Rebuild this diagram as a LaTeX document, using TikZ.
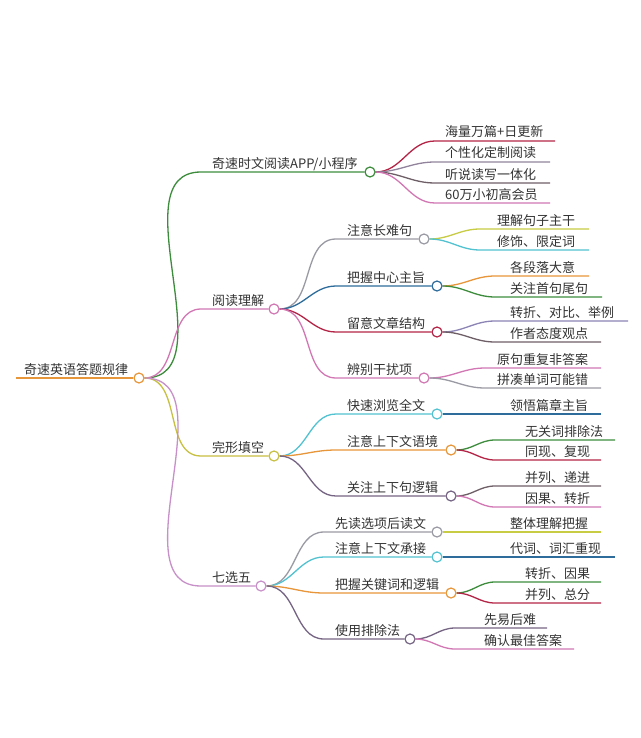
\documentclass[tikz,border=0pt]{standalone}
\usepackage{fontspec}
\setmainfont{Noto Sans CJK SC}
\usepackage{xcolor}
\usepackage{tikz}
\usetikzlibrary{positioning,calc,backgrounds}

\definecolor{cOrange}{HTML}{E8963A}
\definecolor{cGreen}{HTML}{3C8C3C}
\definecolor{cPink}{HTML}{D277B4}
\definecolor{cOlive}{HTML}{C8C042}
\definecolor{cLilac}{HTML}{C890C8}
\definecolor{cGrey}{HTML}{9A9AA4}
\definecolor{cBlue}{HTML}{2E6C9C}
\definecolor{cRed}{HTML}{B42446}
\definecolor{cCyan}{HTML}{52C2D0}
\definecolor{cPurp}{HTML}{756483}
\definecolor{cLav}{HTML}{8C84B4}
\definecolor{cDark}{HTML}{6E5E66}
\definecolor{cYel}{HTML}{C8CC44}

% inner node: name, colour, parent, line start, y, circle x, text
\newcommand\mmnode[7]{%
  \coordinate (#1-s) at (#4,#5);
  \node[lbl] (#1-t) at ($(#4,#5)+(11,-4)$) {#7};
  \node[dot,draw=#2] (#1) at (#6,#5) {};
  \begin{scope}[on background layer]
    \draw[edge,#2] (#3) to[out=0,in=180] (#1-s) -- (#1);
  \end{scope}}
% leaf: name, colour, parent, line start, text x, line end, y, text
\newcommand\mmleaf[8]{%
  \coordinate (#1-s) at (#4,#7);
  \coordinate (#1-e) at (#6,#7);
  \node[lbl] (#1-t) at (#5,#7-4) {#8};
  \begin{scope}[on background layer]
    \draw[edge,#2] (#3) to[out=0,in=180] (#1-s) -- (#1-e);
  \end{scope}}

\begin{document}
\begin{tikzpicture}[
    x=1pt, y=-1pt,
    lbl/.style={anchor=base west, inner sep=0pt, text=black!80,
      font=\fontsize{13}{15}\selectfont},
    dot/.style={circle, fill=white, line width=1.2pt, minimum size=10pt, inner sep=0pt},
    edge/.style={line width=1.3pt}
  ]
  \begin{scope}[on background layer]
    \fill[white] (0,0) rectangle (640,738);
  \end{scope}
  \useasboundingbox (0,0) rectangle (640,738);

  % root
  \coordinate (root-s) at (16,378);
  \node[lbl] (root-t) at (24,374) {奇速英语答题规律};
  \node[dot,draw=cOrange] (root) at (139,378) {};
  \begin{scope}[on background layer]
    \draw[edge,cOrange] (root-s) -- (root);
  \end{scope}

  % first level
  \mmnode{app}{cGreen}{root}{201}{172}{370}{奇速时文阅读APP/小程序}
  \mmnode{read}{cPink}{root}{201}{309}{274}{阅读理解}
  \mmnode{cloze}{cOlive}{root}{201}{456}{274}{完形填空}
  \mmnode{seven}{cLilac}{root}{201}{586}{261}{七选五}

  % app
  \mmleaf{a1}{cRed}{app}{435}{445}{555}{141}{海量万篇+日更新}
  \mmleaf{a2}{cPurp!80}{app}{435}{445}{550}{162}{个性化定制阅读}
  \mmleaf{a3}{cDark}{app}{435}{445}{550}{183}{听说读写一体化}
  \mmleaf{a4}{cPink}{app}{435}{445}{550}{203}{60万小初高会员}

  % reading
  \mmnode{r1}{cGrey}{read}{336}{239}{424}{注意长难句}
  \mmnode{r2}{cBlue}{read}{336}{286}{437}{把握中心主旨}
  \mmnode{r3}{cRed}{read}{336}{332}{437}{留意文章结构}
  \mmnode{r4}{cPink}{read}{336}{378}{424}{辨别干扰项}
  \mmleaf{r11}{cYel}{r1}{480}{497}{589}{229}{理解句子主干}
  \mmleaf{r12}{cCyan}{r1}{480}{497}{589}{250}{修饰、限定词}
  \mmleaf{r21}{cOrange}{r2}{495}{510}{589}{276}{各段落大意}
  \mmleaf{r22}{cGreen}{r2}{495}{510}{602}{297}{关注首句尾句}
  \mmleaf{r31}{cLav}{r3}{495}{510}{628}{321}{转折、对比、举例}
  \mmleaf{r32}{cDark}{r3}{495}{510}{601}{342}{作者态度观点}
  \mmleaf{r41}{cPink}{r4}{485}{497}{601}{368}{原句重复非答案}
  \mmleaf{r42}{cGrey}{r4}{485}{497}{601}{388}{拼凑单词可能错}

  % cloze
  \mmnode{c1}{cCyan}{cloze}{336}{414}{437}{快速浏览全文}
  \mmnode{c2}{cOrange}{cloze}{336}{450}{451}{注意上下文语境}
  \mmnode{c3}{cPurp}{cloze}{336}{496}{451}{关注上下句逻辑}
  \mmleaf{c11}{cBlue}{c1}{445}{510}{601}{414}{领悟篇章主旨}
  \mmleaf{c21}{cGreen}{c2}{495}{525}{615}{440}{无关词排除法}
  \mmleaf{c22}{cRed}{c2}{495}{525}{601}{460}{同现、复现}
  \mmleaf{c31}{cDark}{c3}{495}{525}{601}{486}{并列、递进}
  \mmleaf{c32}{cPink}{c3}{495}{525}{601}{507}{因果、转折}

  % seven
  \mmnode{s1}{cGrey}{seven}{324}{532}{437}{先读选项后读文}
  \mmnode{s2}{cCyan}{seven}{324}{557}{437}{注意上下文承接}
  \mmnode{s3}{cOrange}{seven}{324}{593}{451}{把握关键词和逻辑}
  \mmnode{s4}{cPurp}{seven}{324}{639}{410}{使用排除法}
  \mmleaf{s11}{cYel}{s1}{445}{510}{601}{532}{整体理解把握}
  \mmleaf{s21}{cBlue}{s2}{445}{510}{615}{557}{代词、词汇重现}
  \mmleaf{s31}{cGreen}{s3}{495}{525}{601}{582}{转折、因果}
  \mmleaf{s32}{cRed}{s3}{495}{525}{601}{603}{并列、总分}
  \mmleaf{s41}{cPurp}{s4}{455}{484}{547}{628}{先易后难}
  \mmleaf{s42}{cPink}{s4}{455}{484}{574}{649}{确认最佳答案}
\end{tikzpicture}
\end{document}
